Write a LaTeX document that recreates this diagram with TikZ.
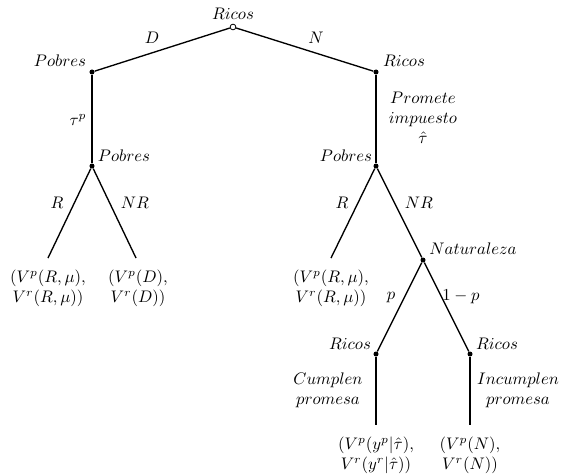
\documentclass[tikz,border=0pt]{standalone}
\usetikzlibrary{positioning}

\tikzset{
  dot/.style={circle,fill,inner sep=0pt,minimum size=3pt},
  rootdot/.style={circle,draw,fill=white,inner sep=0pt,minimum size=3.4pt,line width=0.5pt},
  branch/.style={thick},
  pago/.style={align=center,inner sep=0pt},
}

\begin{document}
\begin{tikzpicture}[x=0.021cm,y=-0.021cm]
    \useasboundingbox (0,0) rectangle (566,475);
    % decision nodes
    \node[rootdot] (r0) at (233,27) {};
    \node[dot] (p1) at (92,72) {};
    \node[dot] (r1) at (376,72) {};
    \node[dot] (p2) at (92,166) {};
    \node[dot] (p3) at (376,166) {};
    \node[dot] (nat) at (423,260) {};
    \node[dot] (r2) at (376,354) {};
    \node[dot] (r3) at (470,354) {};
    % branch ends
    \coordinate (e1) at (48,258);
    \coordinate (e2) at (136,258);
    \coordinate (e3) at (331,258);
    \coordinate (e4) at (376,425);
    \coordinate (e5) at (470,425);
    % branches
    \draw[branch] (r0) -- (p1);
    \draw[branch] (r0) -- (r1);
    \draw[branch] (p1) -- (p2);
    \draw[branch] (r1) -- (p3);
    \draw[branch] (p2) -- (e1);
    \draw[branch] (p2) -- (e2);
    \draw[branch] (p3) -- (e3);
    \draw[branch] (p3) -- (nat);
    \draw[branch] (nat) -- (r2);
    \draw[branch] (nat) -- (r3);
    \draw[branch] (r2) -- (e4);
    \draw[branch] (r3) -- (e5);
    % player labels
    \node (tr0) at (233,14) {$Ricos$};
    \node (tp1) at (60,61) {$Pobres$};
    \node (tr1) at (404,61) {$Ricos$};
    \node (tp2) at (124,156) {$Pobres$};
    \node (tp3) at (346,156) {$Pobres$};
    \node (tnat) at (473,249) {$Naturaleza$};
    \node (tr2) at (350,344) {$Ricos$};
    \node (tr3) at (497,344) {$Ricos$};
    % action labels
    \node (aD) at (152,38) {$D$};
    \node (aN) at (316,38) {$N$};
    \node (atau) at (78,120) {$\tau^p$};
    \node[align=center] (aprom) at (423,118) {$Promete$\\$impuesto$\\$\hat{\tau}$};
    \node (aR1) at (57,203) {$R$};
    \node (aNR1) at (135,203) {$NR$};
    \node (aR2) at (342,203) {$R$};
    \node (aNR2) at (419,203) {$NR$};
    \node (ap) at (391,298) {$p$};
    \node (a1p) at (461,297) {$1-p$};
    \node[align=center] (acum) at (328,390) {$Cumplen$\\$promesa$};
    \node[align=center] (ainc) at (518,390) {$Incumplen$\\$promesa$};
    % payoffs
    \node[pago] (u1) at (48,288) {$(V^p(R,\mu),$\\$V^r(R,\mu))$};
    \node[pago] (u2) at (138,288) {$(V^p(D),$\\$V^r(D))$};
    \node[pago] (u3) at (331,288) {$(V^p(R,\mu),$\\$V^r(R,\mu))$};
    \node[pago] (u4) at (376,455) {$(V^p(y^p|\hat{\tau}),$\\$V^r(y^r|\hat{\tau}))$};
    \node[pago] (u5) at (470,455) {$(V^p(N),$\\$V^r(N))$};
\end{tikzpicture}
\end{document}
